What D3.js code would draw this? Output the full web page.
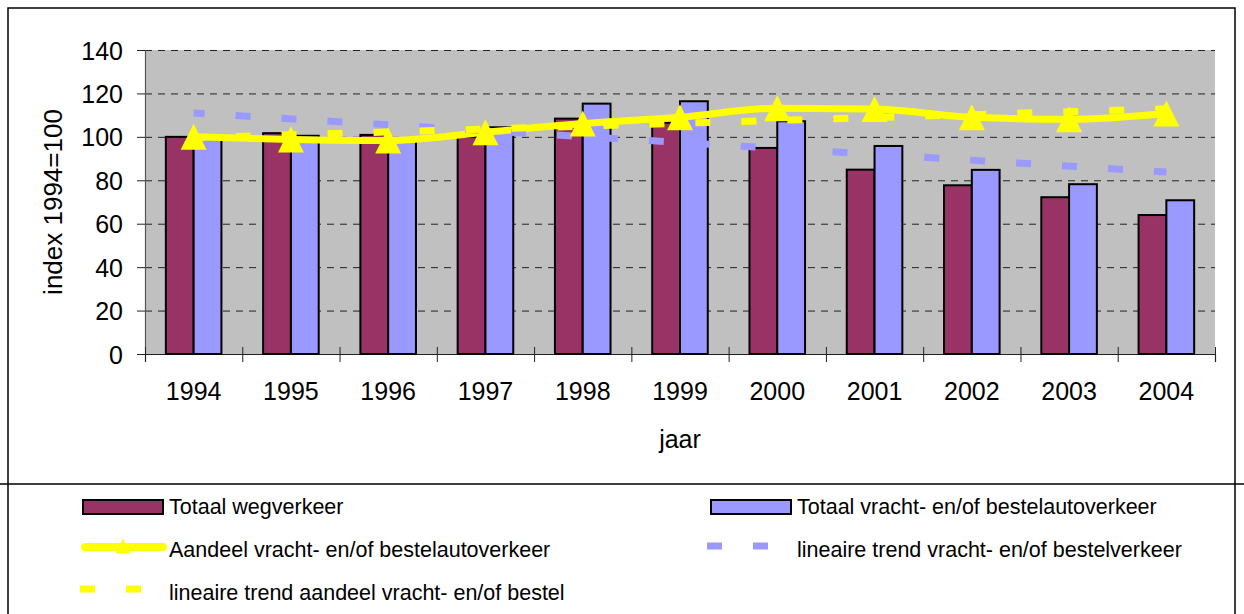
<!DOCTYPE html>
<html>
<head>
<meta charset="utf-8">
<script src="https://cdn.jsdelivr.net/npm/d3@7"></script>
<style>
	body { margin: 0; background: #ffffff; }
	svg { display: block; font-family: "Liberation Sans", Arial, sans-serif; }
</style>
</head>
<body>
<div id="chart"></div>
<script>
// Data
const years = ["1994", "1995", "1996", "1997", "1998", "1999", "2000", "2001", "2002", "2003", "2004"];
const totaalWegverkeer = [100, 101.7, 100.9, 100, 108.4, 106.5, 94.9, 84.9, 77.7, 72.2, 64.0];
const totaalVracht = [100, 100.5, 98.5, 104.4, 115.3, 116.4, 107.2, 95.8, 84.8, 78.2, 70.8];
const aandeelVracht = [100, 98.8, 98.3, 102.1, 106.1, 109, 113.2, 112.8, 109, 108.1, 110.8];
// trend lines: value at first and last year
const trendYears = ["1994", "2004"];
const trendVracht = [111, 83.8];
const trendAandeel = [99.6, 112.9];
const yTicks = [0, 20, 40, 60, 80, 100, 120, 140];

const legendLabels = [
	"Totaal wegverkeer",
	"Totaal vracht- en/of bestelautoverkeer",
	"Aandeel vracht- en/of bestelautoverkeer",
	"lineaire trend vracht- en/of bestelverkeer",
	"lineaire trend aandeel vracht- en/of bestel",
];

const W = 1244, H = 614;
const plot = { left: 145, right: 1215, top: 50, bottom: 354 };
const colors = { weg: "#993366", vracht: "#9999ff", aandeel: "#ffff00" };

function triangle(s) {
	return `M0,${-s / 2}L${s / 2},${s / 2}L${-s / 2},${s / 2}Z`;
}

function drawChart() {
	const svg = d3.select("#chart")
		.append("svg")
		.attr("width", W)
		.attr("height", H)
		.attr("viewBox", [0, 0, W, H]);

	// frames
	svg.append("rect")
		.attr("x", 8).attr("y", 8)
		.attr("width", 1227).attr("height", 640)
		.attr("fill", "none").attr("stroke", "#000").attr("stroke-width", 1.5);
	svg.append("line")
		.attr("x1", 0).attr("x2", W).attr("y1", 484).attr("y2", 484)
		.attr("stroke", "#000").attr("stroke-width", 1.5);

	// scales
	const x = d3.scaleBand().domain(years).range([plot.left, plot.right]).padding(0);
	const xLin = d3.scaleLinear().domain([0, years.length]).range([plot.left, plot.right]);
	const y = d3.scaleLinear().domain([0, 140]).range([plot.bottom, plot.top]);
	const barW = x.bandwidth() / 3.5;
	const groupOff = (x.bandwidth() - 2 * barW) / 2;

	// plot area
	svg.append("rect")
		.attr("x", plot.left).attr("y", plot.top)
		.attr("width", plot.right - plot.left).attr("height", plot.bottom - plot.top)
		.attr("fill", "#c0c0c0");

	// gridlines
	const grid = svg.append("g")
		.attr("transform", `translate(${plot.left},0)`)
		.call(d3.axisLeft(y).tickValues(yTicks.filter((d) => d > 0)).tickSize(-(plot.right - plot.left)).tickFormat(""));
	grid.select(".domain").remove();
	grid.selectAll("line")
		.attr("stroke", "#222").attr("stroke-dasharray", "7,6");

	// y axis
	const yAxis = svg.append("g")
		.attr("transform", `translate(${plot.left},0)`)
		.call(d3.axisLeft(y).tickValues(yTicks).tickSize(8).tickPadding(14));
	yAxis.select(".domain").attr("stroke", "#555").attr("stroke-width", 1.2);
	yAxis.selectAll("line").attr("stroke", "#222");
	yAxis.selectAll("text")
		.attr("font-size", 25).attr("fill", "#000")
		.attr("dy", "0.36em");

	// x axis ticks at category boundaries (cross style)
	const xTicks = svg.append("g")
		.attr("transform", `translate(0,${plot.bottom})`)
		.call(d3.axisBottom(xLin).tickValues(d3.range(years.length + 1)).tickSize(8).tickFormat(""));
	xTicks.select(".domain").attr("stroke", "#222").attr("stroke-width", 1.2);
	xTicks.selectAll("line").attr("stroke", "#222").attr("y1", -7);

	// x labels
	const xLabels = svg.append("g")
		.attr("transform", `translate(0,${plot.bottom})`)
		.call(d3.axisBottom(x).tickSize(0).tickPadding(28));
	xLabels.select(".domain").remove();
	xLabels.selectAll("text").attr("font-size", 25).attr("fill", "#000");

	// axis titles
	svg.append("text")
		.attr("x", (plot.left + plot.right) / 2).attr("y", 448)
		.attr("text-anchor", "middle").attr("font-size", 25)
		.text("jaar");
	svg.append("text")
		.attr("transform", `translate(62,${(plot.top + plot.bottom) / 2}) rotate(-90)`)
		.attr("text-anchor", "middle").attr("font-size", 26)
		.text("index 1994=100");

	// bars
	const bars = svg.append("g");
	bars.selectAll("rect.weg")
		.data(years)
		.enter().append("rect")
		.attr("class", "weg")
		.attr("x", (d) => x(d) + groupOff)
		.attr("y", (d, i) => y(totaalWegverkeer[i]))
		.attr("width", barW)
		.attr("height", (d, i) => y(0) - y(totaalWegverkeer[i]))
		.attr("fill", colors.weg).attr("stroke", "#000").attr("stroke-width", 2);
	bars.selectAll("rect.vracht")
		.data(years)
		.enter().append("rect")
		.attr("class", "vracht")
		.attr("x", (d) => x(d) + groupOff + barW)
		.attr("y", (d, i) => y(totaalVracht[i]))
		.attr("width", barW)
		.attr("height", (d, i) => y(0) - y(totaalVracht[i]))
		.attr("fill", colors.vracht).attr("stroke", "#000").attr("stroke-width", 2);

	const cx = (d) => x(d) + x.bandwidth() / 2;

	// aandeel line (smoothed) with triangle markers
	const line = d3.line()
		.x((d) => cx(d[0]))
		.y((d) => y(d[1]))
		.curve(d3.curveMonotoneX);
	svg.append("path")
		.datum(years.map((d, i) => [d, aandeelVracht[i]]))
		.attr("d", line)
		.attr("fill", "none").attr("stroke", colors.aandeel)
		.attr("stroke-width", 7).attr("stroke-linejoin", "round");

	// trend lines
	const trendLine = d3.line().x((d) => cx(d[0])).y((d) => y(d[1]));
	svg.append("path")
		.datum(trendYears.map((d, i) => [d, trendVracht[i]]))
		.attr("d", trendLine)
		.attr("fill", "none").attr("stroke", colors.vracht)
		.attr("stroke-width", 7).attr("stroke-dasharray", "15,31").attr("stroke-dashoffset", 4);
	svg.append("path")
		.datum(trendYears.map((d, i) => [d, trendAandeel[i]]))
		.attr("d", trendLine)
		.attr("fill", "none").attr("stroke", colors.aandeel)
		.attr("stroke-width", 7).attr("stroke-dasharray", "15,31").attr("stroke-dashoffset", 4);

	svg.append("g").selectAll("path")
		.data(years)
		.enter().append("path")
		.attr("d", triangle(26))
		.attr("transform", (d, i) => `translate(${cx(d)},${y(aandeelVracht[i])})`)
		.attr("fill", colors.aandeel);

	// legend
	const lg = svg.append("g").attr("font-size", 21.5);
	// row 1
	lg.append("rect").attr("x", 83).attr("y", 500).attr("width", 80).attr("height", 14)
		.attr("fill", colors.weg).attr("stroke", "#000").attr("stroke-width", 2);
	lg.append("text").attr("x", 169).attr("y", 514).text(legendLabels[0]);
	lg.append("rect").attr("x", 711).attr("y", 500).attr("width", 80).attr("height", 14)
		.attr("fill", colors.vracht).attr("stroke", "#000").attr("stroke-width", 2);
	lg.append("text").attr("x", 797).attr("y", 514).text(legendLabels[1]);
	// row 2
	lg.append("line").attr("x1", 85).attr("x2", 163).attr("y1", 547).attr("y2", 547)
		.attr("stroke", colors.aandeel).attr("stroke-width", 8).attr("stroke-linecap", "round");
	lg.append("path").attr("d", triangle(15)).attr("transform", "translate(123,546)")
		.attr("fill", colors.aandeel);
	lg.append("text").attr("x", 169).attr("y", 557).text(legendLabels[2]);
	lg.append("line").attr("x1", 707).attr("x2", 769).attr("y1", 546).attr("y2", 546)
		.attr("stroke", colors.vracht).attr("stroke-width", 7).attr("stroke-dasharray", "15,31");
	lg.append("text").attr("x", 797).attr("y", 557).text(legendLabels[3]);
	// row 3
	lg.append("line").attr("x1", 80).attr("x2", 142).attr("y1", 589).attr("y2", 589)
		.attr("stroke", colors.aandeel).attr("stroke-width", 7).attr("stroke-dasharray", "15,31");
	lg.append("text").attr("x", 169).attr("y", 600).text(legendLabels[4]);
}

document.addEventListener("DOMContentLoaded", drawChart);
</script>
</body>
</html>
